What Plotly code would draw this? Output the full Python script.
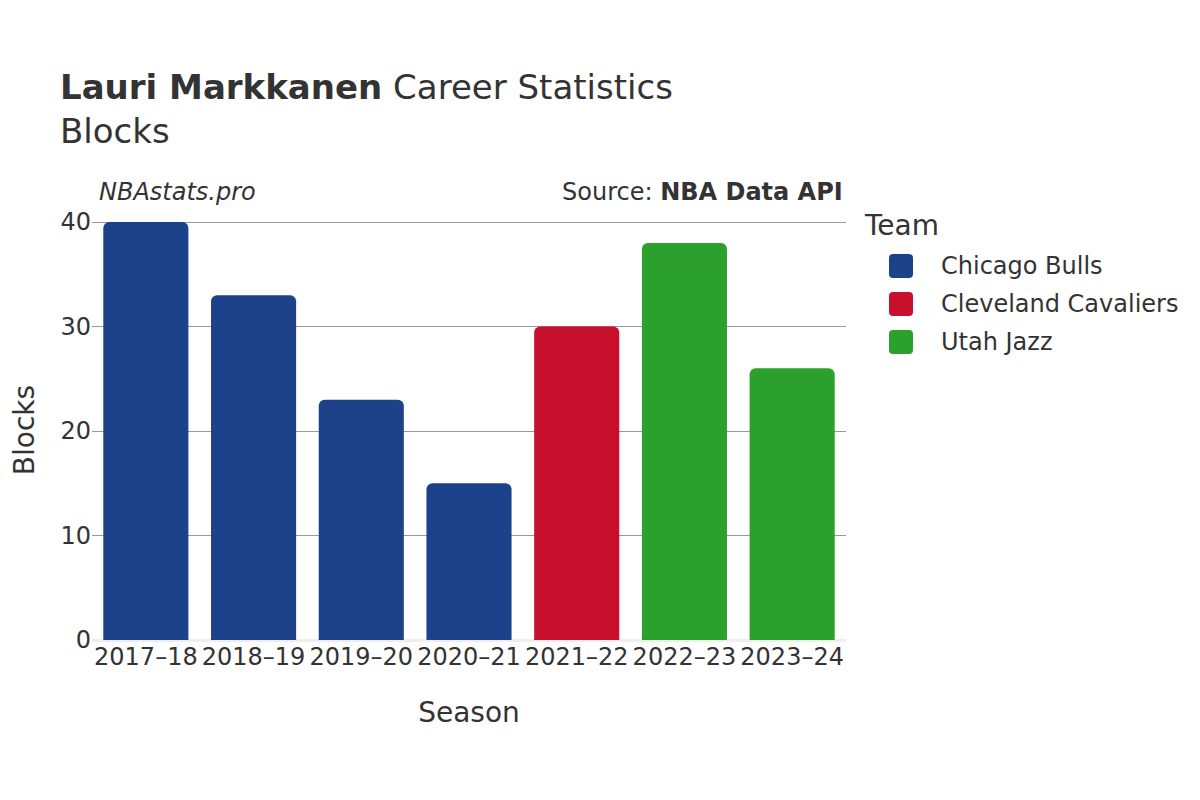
import plotly.graph_objects as go

seasons = ["2017–18", "2018–19", "2019–20", "2020–21", "2021–22", "2022–23", "2023–24"]
teams = ["Chicago Bulls", "Chicago Bulls", "Chicago Bulls", "Chicago Bulls",
         "Cleveland Cavaliers", "Utah Jazz", "Utah Jazz"]
blocks = [40, 33, 23, 15, 30, 38, 26]
team_order = ["Chicago Bulls", "Cleveland Cavaliers", "Utah Jazz"]
team_colors = {"Chicago Bulls": "#1D428A", "Cleveland Cavaliers": "#C8102E", "Utah Jazz": "#2CA02C"}

FONT = "DejaVu Sans"
TEXT = "#333333"
fig = go.Figure()
for t in team_order:
    xs = [s for s, tm in zip(seasons, teams) if tm == t]
    ys = [b for b, tm in zip(blocks, teams) if tm == t]
    fig.add_trace(go.Bar(x=xs, y=ys, name=t, legendgroup=t,
                         marker_color=team_colors[t], marker_line_width=0))

# plot area geometry (figure px)
L, R, T, B = 84, 362, 212, 168
PW, PH = 1200 - L - R, 800 - T - B

def px_x(fx):
    return (fx - L) / PW

def px_y(fy):
    return (800 - B - fy) / PH

annotations = [
    dict(text="<i>NBAstats.pro</i>", xref="paper", yref="paper", x=0.0, y=1.0285,
         xanchor="left", yanchor="bottom", showarrow=False, font=dict(size=24, color=TEXT),
         xshift=5),
    dict(text="Source: <b>NBA Data API</b>", xref="paper", yref="paper", x=1.0, y=1.0285,
         xanchor="right", yanchor="bottom", showarrow=False, font=dict(size=24, color=TEXT),
         xshift=-1),
    dict(text="Team", xref="paper", yref="paper", x=px_x(854), y=px_y(218),
         xanchor="left", yanchor="middle", showarrow=False, font=dict(size=28, color=TEXT)),
]
shapes = []
rr = "M -8,-12 L 8,-12 Q 12,-12 12,-8 L 12,8 Q 12,12 8,12 L -8,12 Q -12,12 -12,8 L -12,-8 Q -12,-12 -8,-12 Z"
for i, t in enumerate(team_order):
    fy = 258 + 38 * i
    shapes.append(dict(type="path", xref="paper", yref="paper", xsizemode="pixel", ysizemode="pixel",
                       xanchor=px_x(893), yanchor=px_y(fy), path=rr,
                       fillcolor=team_colors[t], line=dict(width=0)))
    annotations.append(dict(text=t, xref="paper", yref="paper", x=px_x(931), y=px_y(fy),
                            xanchor="left", yanchor="middle", showarrow=False,
                            font=dict(size=24, color=TEXT)))

fig.update_layout(
    width=1200, height=800,
    barmode="relative", bargap=0.21, barcornerradius=6,
    plot_bgcolor="white", paper_bgcolor="white",
    font=dict(family=FONT, size=24, color=TEXT),
    margin=dict(l=L, r=R, t=T, b=B, autoexpand=False),
    showlegend=False,
    title=dict(
        text="<b>Lauri Markkanen</b> Career Statistics<br>Blocks",
        x=52 / 1200, xanchor="left", y=0.886, yanchor="top",
        font=dict(size=34, color=TEXT),
    ),
    xaxis=dict(
        title=dict(text="Season", font=dict(size=28), standoff=32),
        categoryorder="array", categoryarray=seasons,
        tickfont=dict(size=24), showgrid=False, ticks="",
    ),
    yaxis=dict(
        title=dict(text="Blocks", font=dict(size=28), standoff=32),
        range=[0, 40.2], tickvals=[0, 10, 20, 30, 40],
        gridcolor="#999999", gridwidth=1,
        zeroline=True, zerolinecolor="#eeeeee", zerolinewidth=3,
        tickfont=dict(size=24), ticks="",
    ),
    annotations=annotations,
    shapes=shapes,
)

fig.write_html("out.html")
